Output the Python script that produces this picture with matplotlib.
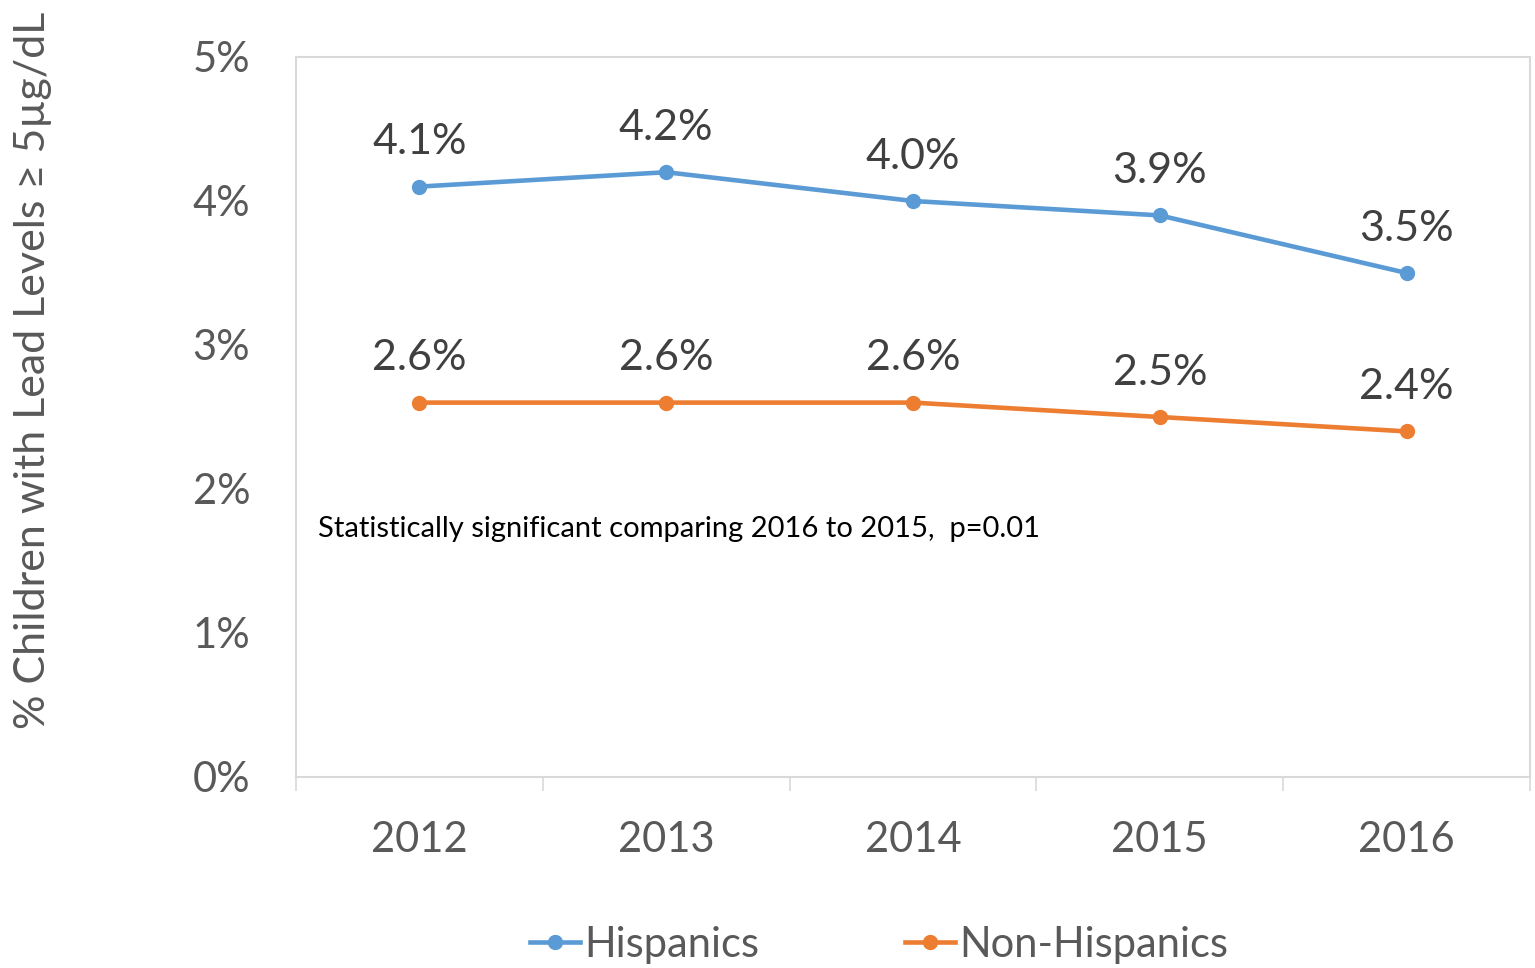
import matplotlib.pyplot as plt
from matplotlib.ticker import FixedLocator, PercentFormatter

# =========================================================
# DATA
# =========================================================
years = ["2012", "2013", "2014", "2015", "2016"]
hispanics = [4.1, 4.2, 4.0, 3.9, 3.5]
non_hispanics = [2.6, 2.6, 2.6, 2.5, 2.4]
y_ticks = [0, 1, 2, 3, 4, 5]
note = "Statistically significant comparing 2016 to 2015,  p=0.01"

BLUE = "#5B9BD5"
ORANGE = "#ED7D31"
TEXT = "#595959"
GRID = "#D9D9D9"

plt.rcParams["font.family"] = ["Lato", "DejaVu Sans"]

# =========================================================
# FIGURE
# =========================================================
fig = plt.figure(figsize=(15.35, 9.68), dpi=100)
ax = fig.add_axes([296 / 1535, 191 / 968, 1234 / 1535, 720 / 968])

x = list(range(len(years)))
ax.plot(x, hispanics, color=BLUE, lw=3.3, marker="o", ms=10, label="Hispanics")
ax.plot(x, non_hispanics, color=ORANGE, lw=3.3, marker="o", ms=10, label="Non-Hispanics")

for xi, v in zip(x, hispanics):
    ax.annotate(f"{v:.1f}%", (xi, v), xytext=(0, 32), textcoords="offset points",
                ha="center", va="center", fontsize=31, color="#404040")
for xi, v in zip(x, non_hispanics):
    ax.annotate(f"{v:.1f}%", (xi, v), xytext=(0, 32), textcoords="offset points",
                ha="center", va="center", fontsize=31, color="#404040")

ax.set_xlim(-0.5, len(years) - 0.5)
ax.set_ylim(0, 5)
ax.set_xticks(x)
ax.set_xticklabels(years)
ax.xaxis.set_minor_locator(FixedLocator([i - 0.5 for i in range(len(years) + 1)]))
ax.tick_params(axis="x", which="major", length=0, pad=32, labelsize=30, labelcolor=TEXT)
ax.tick_params(axis="x", which="minor", length=10, width=1.2, color=GRID)
ax.set_yticks(y_ticks)
ax.yaxis.set_major_formatter(PercentFormatter(decimals=0))
ax.tick_params(axis="y", length=0, pad=33, labelsize=30, labelcolor=TEXT)

for s in ax.spines.values():
    s.set_color(GRID)
    s.set_linewidth(1.5)

ax.text(-0.411, 1.72, note, fontsize=21, color="black", ha="left", va="center")

fig.text(33 / 1535, 1 - 370 / 968, "% Children with Lead Levels \u2265 5\u00b5g/dL",
         rotation=90, ha="center", va="center", fontsize=31, color=TEXT)

fig.legend(loc="center", bbox_to_anchor=(879 / 1535, 1 - 945 / 968), ncol=2,
           frameon=False, fontsize=30, labelcolor=TEXT, handlelength=1.2,
           handletextpad=0.1, columnspacing=3.5, borderpad=0)

plt.savefig("out.png", dpi=100)
